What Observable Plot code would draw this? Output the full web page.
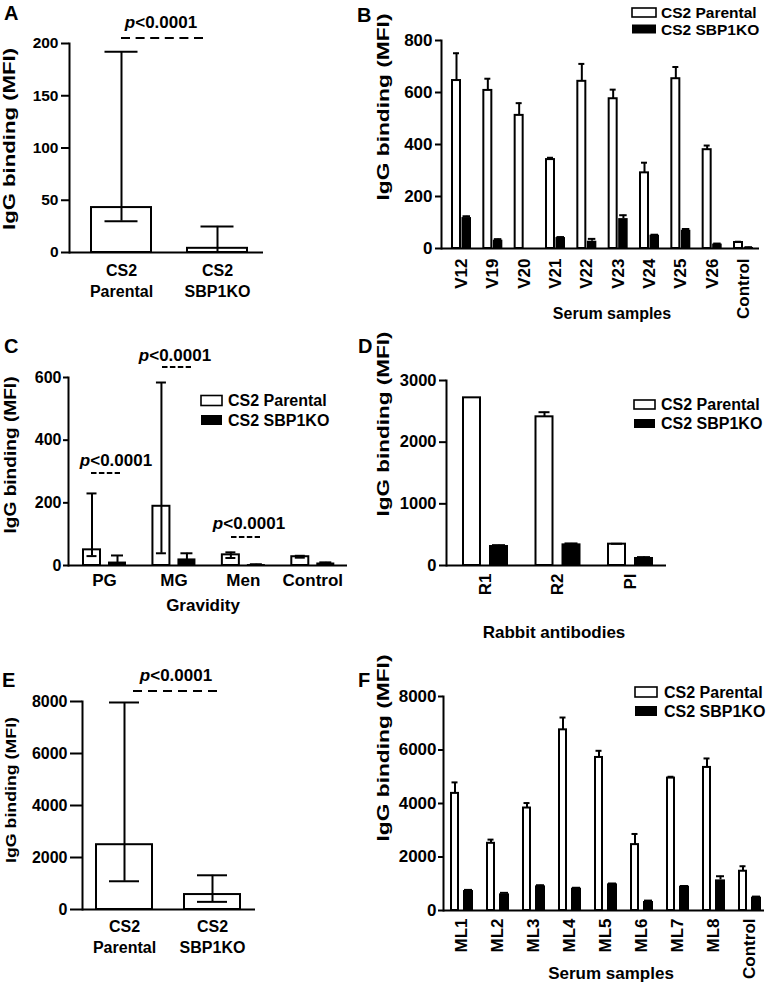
<!DOCTYPE html>
<html>
<head>
<meta charset="utf-8">
<script src="https://cdn.jsdelivr.net/npm/d3@7"></script>
<script src="https://cdn.jsdelivr.net/npm/@observablehq/plot@0.6"></script>
<style>
html, body { margin: 0; padding: 0; background: #fff; }
#page { position: relative; width: 767px; height: 986px; overflow: hidden; background: #fff; }
#page svg { position: absolute; left: 0; top: 0; }
</style>
</head>
<body>
<div id="page"></div>
<script>
// ---------------- DATA ----------------
const seriesNames = ["CS2 Parental", "CS2 SBP1KO"];
const yTitle = "IgG binding (MFI)";
const pLabel = "<0.0001";

// Panel A
const groupsA = ["CS2\nParental", "CS2\nSBP1KO"];
const medianA = [43, 4];
const lowA = [30, 0];
const highA = [192, 25];
const ticksA = [0, 50, 100, 150, 200];

// Panel B
const samplesB = ["V12", "V19", "V20", "V21", "V22", "V23", "V24", "V25", "V26", "Control"];
const parentalB = [646, 608, 512, 342, 643, 576, 291, 653, 380, 23];
const parentalHighB = [751, 653, 559, 349, 710, 611, 330, 698, 396, 26];
const koB = [119, 32, 0, 42, 28, 115, 51, 70, 17, 4];
const koHighB = [124, 36, 0, 44, 37, 128, 53, 75, 19, 5];
const ticksB = [0, 200, 400, 600, 800];
const xTitleB = "Serum samples";

// Panel C
const gravidityC = ["PG", "MG", "Men", "Control"];
const parentalC = [50, 189, 34, 28];
const parentalLowC = [30, 39, 24, 25];
const parentalHighC = [230, 584, 42, 31];
const koC = [11, 21, 3, 8];
const koLowC = [0, 0, 2, 6];
const koHighC = [32, 39, 4, 10];
const ticksC = [0, 200, 400, 600];
const xTitleC = "Gravidity";

// Panel D
const antibodiesD = ["R1", "R2", "PI"];
const parentalD = [2719, 2411, 346];
const parentalHighD = [2719, 2486, 352];
const koD = [324, 351, 130];
const koHighD = [330, 358, 136];
const ticksD = [0, 1000, 2000, 3000];
const xTitleD = "Rabbit antibodies";

// Panel E
const groupsE = ["CS2\nParental", "CS2\nSBP1KO"];
const medianE = [2492, 575];
const lowE = [1086, 294];
const highE = [7962, 1316];
const ticksE = [0, 2000, 4000, 6000, 8000];

// Panel F
const samplesF = ["ML1", "ML2", "ML3", "ML4", "ML5", "ML6", "ML7", "ML8", "Control"];
const parentalF = [4378, 2512, 3831, 6754, 5721, 2463, 4950, 5348, 1468];
const parentalHighF = [4789, 2650, 4017, 7214, 5970, 2861, 5000, 5684, 1654];
const koF = [746, 622, 920, 833, 995, 336, 908, 1144, 498];
const koHighF = [770, 660, 945, 850, 1010, 370, 915, 1281, 520];
const ticksF = [0, 2000, 4000, 6000, 8000];
const xTitleF = "Serum samples";

// ---------------- LAYOUT ----------------
const W = 767, H = 986;
const FONT = '"Liberation Sans", Arial, Helvetica, sans-serif';
const page = document.getElementById("page");

function table(cats, cols) {
  return cats.map((c, i) => {
    const o = {cat: c};
    for (const k in cols) o[k] = cols[k][i];
    return o;
  });
}

// paddingInner from desired bar-group width
function padInner(r0, r1, n, bw) {
  const g = (r1 - r0 - n * bw) / (n - 1);
  return g / (g + bw);
}

function singleMarks(data, g) {
  return [
    Plot.barY(data, {x: "cat", y: "v", fill: "white", stroke: "black", strokeWidth: 2,
      insetLeft: g.bar[0], insetRight: g.bw - g.bar[1]}),
    Plot.ruleX(data, {x: "cat", y1: "lo", y2: "hi", stroke: "black", strokeWidth: 2}),
    Plot.tickY(data, {x: "cat", y: "hi", stroke: "black", strokeWidth: 2,
      insetLeft: g.cap[0], insetRight: g.bw - g.cap[1]}),
    Plot.tickY(data.filter(d => d.lo > 0), {x: "cat", y: "lo", stroke: "black", strokeWidth: 2,
      insetLeft: g.cap[0], insetRight: g.bw - g.cap[1]})
  ];
}

function pairMarks(data, g, withLow) {
  const wdx = (g.white[0] + g.white[1]) / 2 - g.bw / 2;
  const bdx = (g.black[0] + g.black[1]) / 2 - g.bw / 2;
  const marks = [
    Plot.barY(data, {x: "cat", y: "p", fill: "white", stroke: "black", strokeWidth: 2,
      insetLeft: g.white[0], insetRight: g.bw - g.white[1]}),
    Plot.barY(data, {x: "cat", y: "k", fill: "black",
      insetLeft: g.black[0], insetRight: g.bw - g.black[1]}),
    Plot.ruleX(data, {x: "cat", y1: withLow ? "pLo" : "p", y2: "pHi", dx: wdx, stroke: "black", strokeWidth: 2}),
    Plot.ruleX(data, {x: "cat", y1: withLow ? "kLo" : "k", y2: "kHi", dx: bdx, stroke: "black", strokeWidth: 2}),
    Plot.tickY(data.filter(d => d.pHi > d.p), {x: "cat", y: "pHi", stroke: "black", strokeWidth: 2,
      insetLeft: g.wcap[0], insetRight: g.bw - g.wcap[1]}),
    Plot.tickY(data.filter(d => d.kHi > d.k), {x: "cat", y: "kHi", stroke: "black", strokeWidth: 2,
      insetLeft: g.bcap[0], insetRight: g.bw - g.bcap[1]})
  ];
  if (withLow) {
    marks.push(Plot.tickY(data.filter(d => d.pLo > 0 && d.pLo < d.p), {x: "cat", y: "pLo", stroke: "black", strokeWidth: 2,
      insetLeft: g.wcap[0], insetRight: g.bw - g.wcap[1]}));
  }
  return marks;
}

function panel(cfg) {
  const n = cfg.cats.length;
  const pi = padInner(cfg.xRange[0], cfg.xRange[1], n, cfg.g.bw);
  const plot = Plot.plot({
    width: W, height: H,
    marginLeft: cfg.frame.left, marginRight: W - cfg.frame.right,
    marginTop: cfg.frame.top, marginBottom: H - cfg.frame.bottom,
    style: {background: "transparent", fontFamily: FONT, fontWeight: "bold", color: "black", overflow: "visible"},
    x: {type: "band", domain: cfg.cats, range: cfg.xRange, paddingInner: pi, paddingOuter: 0, round: false},
    y: {domain: cfg.yDomain},
    marks: [
      ...cfg.marks,
      Plot.ruleY([0], {stroke: "black", strokeWidth: 2}),
      Plot.frame({anchor: "left", stroke: "black", strokeWidth: 2}),
      Plot.axisY({ticks: cfg.ticks, tickSize: cfg.tickSize, tickPadding: cfg.tickPadding, fontSize: cfg.tickFont,
        tickFormat: d3.format("d"), stroke: "black", strokeWidth: 2, label: null}),
      Plot.axisX({tickSize: 0, label: null, ...cfg.xAxis})
    ]
  });
  page.appendChild(plot);
}

// Panel A
panel({
  cats: groupsA, frame: {left: 69, right: 263, top: 43, bottom: 252}, xRange: [90, 248],
  g: {bw: 62}, yDomain: [0, 200], ticks: ticksA, tickSize: 8, tickPadding: 3, tickFont: 15.5,
  xAxis: {tickPadding: 9, fontSize: 16, lineHeight: 1.3},
  marks: singleMarks(table(groupsA, {v: medianA, lo: lowA, hi: highA}), {bw: 62, bar: [1, 61], cap: [14.5, 47.5]})
});

// Panel B
const gB = {bw: 20, white: [1, 9], black: [10.5, 20], wcap: [2, 8], bcap: [11.5, 19]};
panel({
  cats: samplesB, frame: {left: 441, right: 759, top: 40, bottom: 248}, xRange: [451, 753],
  g: gB, yDomain: [0, 800], ticks: ticksB, tickSize: 6, tickPadding: 3, tickFont: 17,
  xAxis: {tickRotate: -90, tickPadding: 10, fontSize: 17},
  marks: pairMarks(table(samplesB, {p: parentalB, pHi: parentalHighB, k: koB, kHi: koHighB}), gB, false)
});

// Panel C
const gC = {bw: 44, white: [1, 18], black: [26, 44], wcap: [4.5, 14.5], bcap: [29, 41]};
panel({
  cats: gravidityC, frame: {left: 68, right: 347, top: 377, bottom: 565}, xRange: [82, 334.3],
  g: gC, yDomain: [0, 600], ticks: ticksC, tickSize: 5, tickPadding: 2, tickFont: 16,
  xAxis: {tickPadding: 8, fontSize: 17},
  marks: pairMarks(table(gravidityC, {p: parentalC, pLo: parentalLowC, pHi: parentalHighC, k: koC, kLo: koLowC, kHi: koHighC}), gC, true)
});

// Panel D
const gD = {bw: 46, white: [1, 18], black: [27, 46], wcap: [4, 15], bcap: [30, 43]};
panel({
  cats: antibodiesD, frame: {left: 446, right: 666, top: 380, bottom: 565}, xRange: [462, 653],
  g: gD, yDomain: [0, 3000], ticks: ticksD, tickSize: 7, tickPadding: 3, tickFont: 16.5,
  xAxis: {tickRotate: -90, tickPadding: 8, fontSize: 17},
  marks: pairMarks(table(antibodiesD, {p: parentalD, pHi: parentalHighD, k: koD, kHi: koHighD}), gD, false)
});

// Panel E
panel({
  cats: groupsE, frame: {left: 82, right: 255, top: 701, bottom: 909}, xRange: [95, 241],
  g: {bw: 58}, yDomain: [0, 8000], ticks: ticksE, tickSize: 12, tickPadding: 3, tickFont: 16,
  xAxis: {tickPadding: 8, fontSize: 16, lineHeight: 1.3},
  marks: singleMarks(table(groupsE, {v: medianE, lo: lowE, hi: highE}), {bw: 58, bar: [1, 57], cap: [14, 44]})
});

// Panel F
const gF = {bw: 23, white: [1, 8], black: [13, 23], wcap: [1.5, 7.5], bcap: [14, 22]};
panel({
  cats: samplesF, frame: {left: 443, right: 764, top: 696, bottom: 910}, xRange: [450, 761],
  g: gF, yDomain: [0, 8000], ticks: ticksF, tickSize: 5, tickPadding: 2, tickFont: 17,
  xAxis: {tickRotate: -90, tickPadding: 8, fontSize: 17},
  marks: pairMarks(table(samplesF, {p: parentalF, pHi: parentalHighF, k: koF, kHi: koHighF}), gF, false)
});

// ---------------- ANNOTATIONS ----------------
const ov = d3.select(page).append("svg")
  .attr("width", W).attr("height", H)
  .style("font-family", FONT).style("font-weight", "bold").attr("fill", "black");

// panel letters
[["A", 4, 20], ["B", 357, 22], ["C", 4, 353], ["D", 358, 353], ["E", 2, 687], ["F", 358, 687]]
  .forEach(([t, x, y]) => ov.append("text").attr("x", x).attr("y", y).attr("font-size", 20).text(t));

// y titles (cx, cy, length, font)
[[11, 139, 182, 16], [385, 107, 187, 16], [12, 455, 157, 16], [385, 424, 185, 16], [12, 790, 146, 14.5], [385, 748, 187, 16]]
  .forEach(([cx, cy, len, fs]) => ov.append("text")
    .attr("transform", `translate(${cx},${cy}) rotate(-90)`)
    .attr("text-anchor", "middle").attr("dy", "0.25em").attr("font-size", fs)
    .attr("textLength", len).attr("lengthAdjust", "spacingAndGlyphs")
    .text(yTitle));

// x titles
[[xTitleB, 612, 313, 16], [xTitleC, 203, 605, 17], [xTitleD, 554, 632, 17], [xTitleF, 611, 973, 17]]
  .forEach(([t, x, y, fs]) => ov.append("text").attr("x", x).attr("y", y).attr("dy", "0.36em")
    .attr("text-anchor", "middle").attr("font-size", fs).text(t));

// legends: box x, box w, box h, text x, row centers, font size
[[632, 24, 9, 661, [12.5, 29], 15.5], [201, 21, 10, 228, [400.5, 420], 16], [634, 21, 9, 661, [404.5, 423.5], 16], [635, 22, 10, 664, [692, 711], 16]]
  .forEach(([bx, bw, bh, tx, ys, fs]) => {
    seriesNames.forEach((name, i) => {
      ov.append("rect").attr("x", bx).attr("y", ys[i] - bh / 2).attr("width", bw).attr("height", bh)
        .attr("fill", i === 0 ? "white" : "black").attr("stroke", "black").attr("stroke-width", i === 0 ? 1.6 : 0);
      ov.append("text").attr("x", tx).attr("y", ys[i]).attr("dy", "0.36em").attr("font-size", fs).text(name);
    });
  });

// p-values: text cx, baseline, dash y, dash x1, x2, dash pattern
[[161, 28, 38, 121, 203, "9,5.6"], [116, 466, 473, 91, 120, "5.5,2.4"], [175, 361, 367, 162, 191, "5.5,2.4"],
 [249, 529, 537, 231, 260, "5.5,2.4"], [176, 681, 691, 133, 217, "9,6"]]
  .forEach(([cx, by, dy, x1, x2, dash]) => {
    const t = ov.append("text").attr("x", cx).attr("y", by).attr("text-anchor", "middle").attr("font-size", 17);
    t.append("tspan").attr("font-style", "italic").text("p");
    t.append("tspan").text(pLabel);
    ov.append("line").attr("x1", x1).attr("x2", x2).attr("y1", dy).attr("y2", dy)
      .attr("stroke", "black").attr("stroke-width", 2).attr("stroke-dasharray", dash);
  });
</script>
</body>
</html>
